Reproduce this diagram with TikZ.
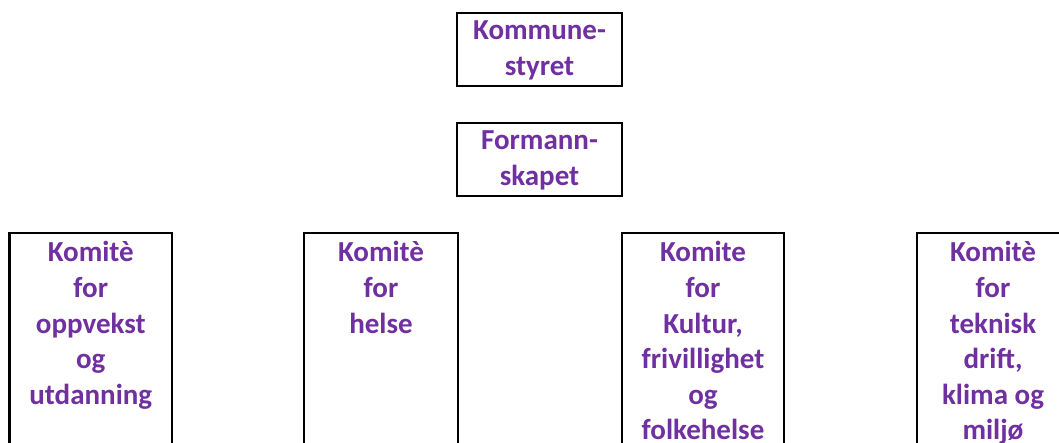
\documentclass[tikz,border=0pt]{standalone}
\usepackage{fontspec}
\setmainfont{Carlito}
\definecolor{kpurple}{HTML}{7030A0}
\begin{document}
\begin{tikzpicture}[x=1pt,y=-1pt,
  box/.style={draw=black,line width=2.2pt,rectangle,inner sep=0pt,fill=white},
  txt/.style={text=kpurple,font=\fontsize{29}{35.6}\selectfont\bfseries,align=center,anchor=base,inner sep=0pt}]
\useasboundingbox (0,0) rectangle (1059,443);
\node[box,minimum width=165pt,minimum height=73pt] (ks) at (539.5,49.5) {};
\node[box,minimum width=165pt,minimum height=73pt] (fs) at (539.5,159.5) {};
\node[box,minimum width=162.5pt,minimum height=227pt] (k1) at (90.75,346.5) {};
\node[box,minimum width=154pt,minimum height=227pt] (k2) at (381,346.5) {};
\node[box,minimum width=162pt,minimum height=227pt] (k3) at (703,346.5) {};
\node[box,minimum width=152pt,minimum height=227pt] (k4) at (993,346.5) {};
\node[txt] (tks) at ([yshift=-63.6pt]ks.north) {Kommune-\\styret};
\node[txt] (tfs) at ([yshift=-63.6pt]fs.north) {Formann-\\skapet};
\node[txt] (tk1) at ([yshift=-172.4pt]k1.north) {Komitè\\for\\oppvekst\\og\\utdanning};
\node[txt] (tk2) at ([yshift=-101.2pt]k2.north) {Komitè\\for\\helse};
\node[txt] (tk3) at ([yshift=-208pt]k3.north) {Komite\\for\\Kultur,\\frivillighet\\og\\folkehelse};
\node[txt] (tk4) at ([yshift=-208pt]k4.north) {Komitè\\for\\teknisk\\drift,\\klima og\\miljø};
\end{tikzpicture}
\end{document}
